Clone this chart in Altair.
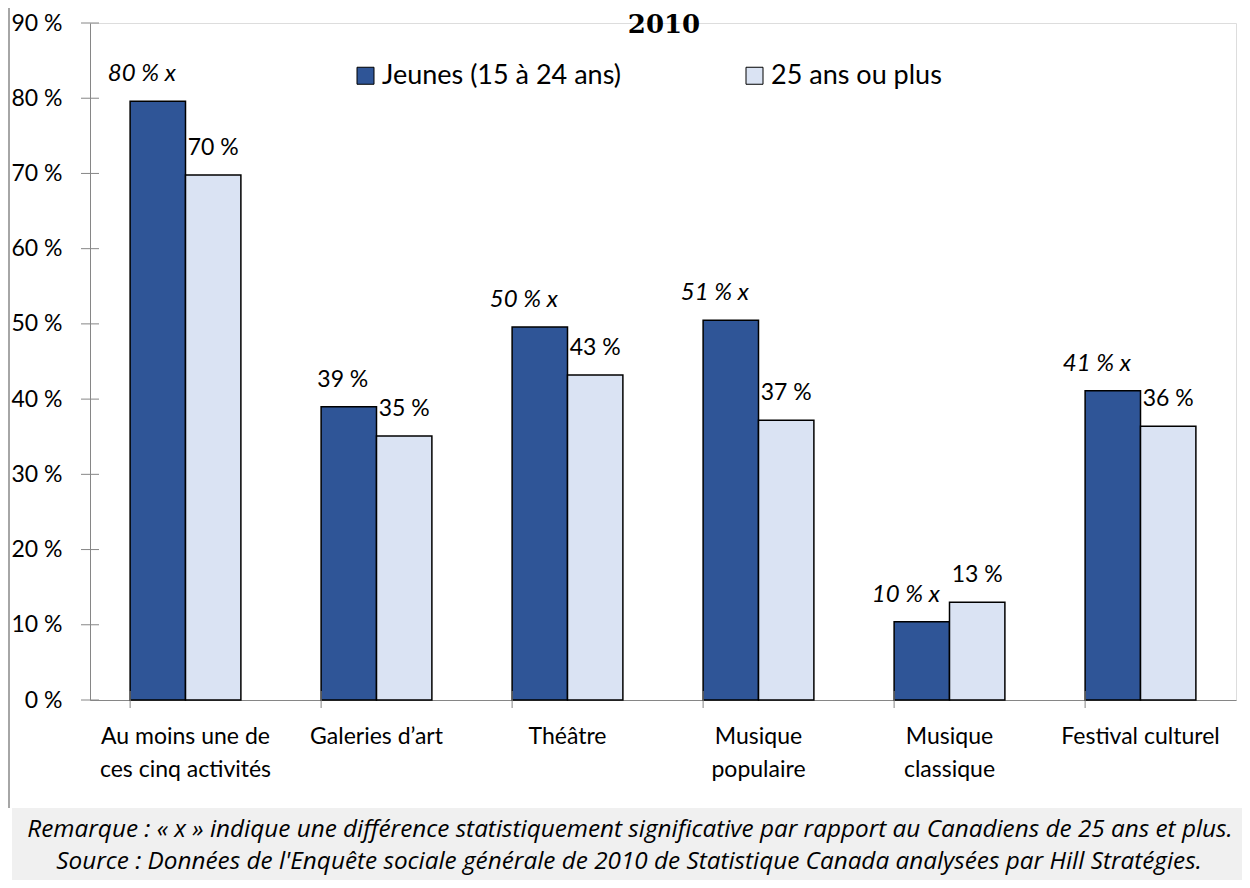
import altair as alt
import pandas as pd

categories = ["Au moins une de\nces cinq activités", "Galeries d’art", "Théâtre",
              "Musique\npopulaire", "Musique\nclassique", "Festival culturel"]
series = ["Jeunes (15 à 24 ans)", "25 ans ou plus"]
jeunes = [79.6, 39.0, 49.6, 50.5, 10.4, 41.1]
ages25 = [69.8, 35.1, 43.2, 37.2, 13.0, 36.4]
jeunes_labels = ["80 % x", "39 %", "50 % x", "51 % x", "10 % x", "41 % x"]
ages25_labels = ["70 %", "35 %", "43 %", "37 %", "13 %", "36 %"]
significant = [True, False, True, True, True, True]
y_ticks = [0, 10, 20, 30, 40, 50, 60, 70, 80, 90]
colors = ["#2F5597", "#DAE3F3"]
title_text = "2010"
note_1 = "Remarque : « x » indique une différence statistiquement significative par rapport au Canadiens de 25 ans et plus."
note_2 = "Source : Données de l'Enquête sociale générale de 2010 de Statistique Canada analysées par Hill Stratégies."

FONT = "Lato"
FOOT_FONT = "Open Sans"
W, H = 1146, 677

rows = []
for i, c in enumerate(categories):
    rows.append({"cat": c, "series": series[0], "value": jeunes[i], "label": jeunes_labels[i],
                 "kind": "sig" if significant[i] else "plain_dark"})
    rows.append({"cat": c, "series": series[1], "value": ages25[i], "label": ages25_labels[i],
                 "kind": "light"})
df = pd.DataFrame(rows)

x = alt.X("cat:N", sort=categories,
          scale=alt.Scale(paddingInner=0.42, paddingOuter=0.21),
          axis=alt.Axis(title=None, labelAngle=0, labelExpr="split(datum.label, '\\n')",
                        labelFontSize=23, labelLineHeight=33, labelPadding=25, ticks=False,
                        domainColor="#868686", labelColor="black", labelFont=FONT, labelLimit=0))
y = alt.Y("value:Q", scale=alt.Scale(domain=[0, 90], nice=False),
          axis=alt.Axis(title=None, values=y_ticks, labelExpr="datum.value + ' %'", ticks=False,
                        grid=False, domainColor="#868686", labelFontSize=23, labelPadding=28,
                        labelColor="black", labelFont=FONT))
xoff = alt.XOffset("series:N", sort=series, scale=alt.Scale(paddingInner=0, paddingOuter=0))

base = alt.Chart(df)
bars = base.mark_bar(stroke="black", strokeWidth=1.5).encode(
    x=x, xOffset=xoff, y=y,
    color=alt.Color("series:N", scale=alt.Scale(domain=series, range=colors),
                    legend=alt.Legend(title=None, orient="none", legendX=262, legendY=39,
                                      direction="horizontal", labelFontSize=27, labelFont=FONT,
                                      labelColor="black", symbolType="square", symbolSize=289,
                                      symbolStrokeColor="black", symbolStrokeWidth=1,
                                      columnPadding=120, labelOffset=3, labelLimit=0))
)

def labels(kind, dx, italic, size):
    kw = dict(fontSize=size, font=FONT, color="black", baseline="middle", dy=-27, dx=dx)
    if italic:
        kw["fontStyle"] = "italic"
    return base.transform_filter(alt.datum.kind == kind).mark_text(**kw).encode(
        x=x, xOffset=xoff, y=y, text="label:N")

ticks_y = alt.Chart(pd.DataFrame({"value": y_ticks})).mark_rule(color="#868686").encode(
    y=alt.Y("value:Q"), x=alt.value(-9), x2=alt.value(9))
ticks_x = alt.Chart(pd.DataFrame({"cat": categories})).mark_rule(color="#868686").encode(
    x=alt.X("cat:N", sort=categories, bandPosition=0), y=alt.value(H - 9), y2=alt.value(H + 8))

one = pd.DataFrame({"t": [title_text], "n1": [note_1], "n2": [note_2]})
footer_bg = alt.Chart(one).mark_rect(fill="#F0F0F0").encode(
    x=alt.value(-78), x2=alt.value(1160), y=alt.value(785), y2=alt.value(857))
foot_kw = dict(fontSize=24.3, font=FOOT_FONT, fontStyle="italic", color="black",
               baseline="middle", align="center")
footer_1 = alt.Chart(one).mark_text(**foot_kw).encode(text="n1:N", x=alt.value(540), y=alt.value(807))
footer_2 = alt.Chart(one).mark_text(**foot_kw).encode(text="n2:N", x=alt.value(539), y=alt.value(839))
border = alt.Chart(one).mark_rule(color="#A6A6A6", strokeWidth=2).encode(
    x=alt.value(-81), y=alt.value(-15), y2=alt.value(785))
title = alt.Chart(one).mark_text(fontSize=26, font="DejaVu Serif", fontWeight="bold",
                                 color="black", baseline="alphabetic").encode(
    text="t:N", x=alt.value(574), y=alt.value(10))

chart = alt.layer(
    footer_bg, border, bars, ticks_y, ticks_x,
    labels("sig", -16, True, 24), labels("plain_dark", -6, False, 23), labels("light", 0, False, 23),
    footer_1, footer_2, title
).properties(
    width=W, height=H,
    autosize=alt.AutoSizeParams(type="none"),
    padding={"left": 82, "top": 15, "right": 6, "bottom": 180},
).configure_view(stroke=None).configure(font=FONT)

chart.save("out.html", embed_options={"renderer": "svg", "actions": False})
